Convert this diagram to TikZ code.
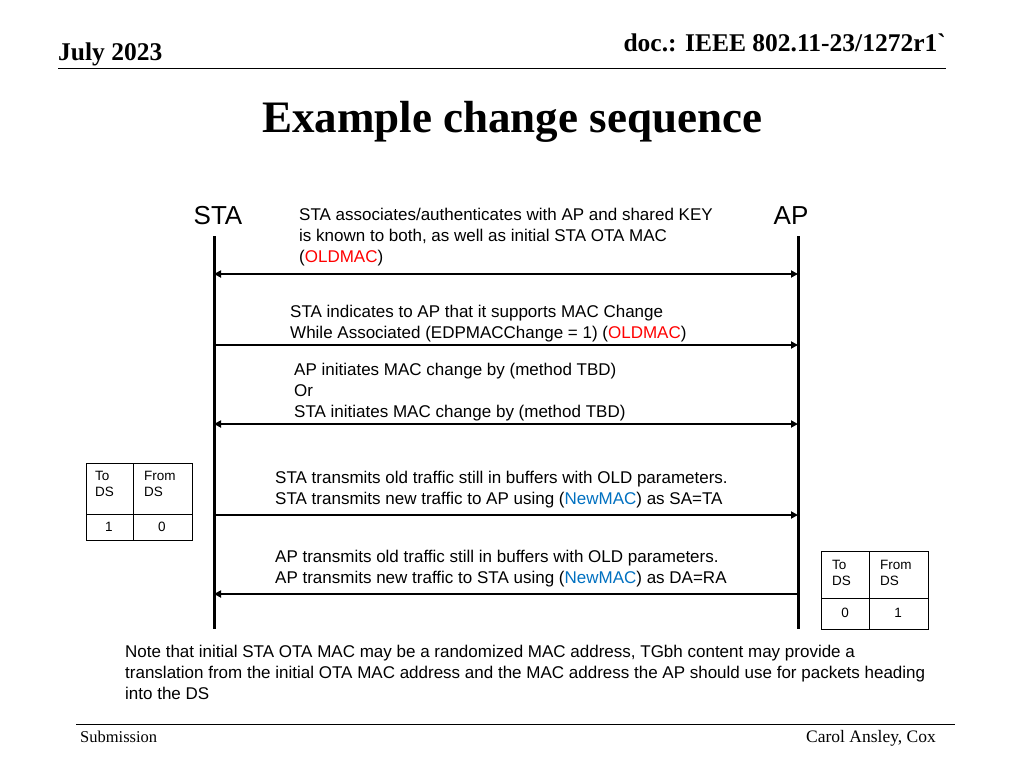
\documentclass[tikz,border=0pt]{standalone}
\usepackage{fontspec}
\setmainfont{Liberation Sans}
\newfontfamily\serifb{Liberation Serif}
\usetikzlibrary{arrows.meta}
\definecolor{oldred}{RGB}{255,0,0}
\definecolor{newblue}{RGB}{0,112,192}
\begin{document}
\begin{tikzpicture}[x=1pt,y=-1pt,
  msg/.style={line width=2.2pt,-{Triangle[length=7pt,width=7pt]}},
  dmsg/.style={line width=2.2pt,{Triangle[length=7pt,width=7pt]}-{Triangle[length=7pt,width=7pt]}},
  life/.style={line width=3pt},
  txt/.style={anchor=north west,align=left,inner sep=0pt,font=\fontsize{17}{21}\selectfont},
  cell/.style={font=\fontsize{13.5}{16}\selectfont,inner sep=0pt,align=left}]
\useasboundingbox (0,0) rectangle (1024,768);
% header
\node[anchor=west,inner sep=0pt,font=\serifb\bfseries\fontsize{25.5}{27}\selectfont] (date) at (58,54) {July 2023};
\node[anchor=east,inner sep=0pt,font=\serifb\bfseries\fontsize{25.5}{27}\selectfont] (doc) at (946,43) {doc.: IEEE 802.11-23/1272r1`};
\draw[line width=1pt] (58,68) -- (946,68);
\node[font=\serifb\bfseries\fontsize{45}{48}\selectfont,inner sep=0pt] (title) at (512,122) {Example change sequence};
% actors
\node[font=\fontsize{26}{28}\selectfont,inner sep=0pt] (sta) at (218,216) {STA};
\node[font=\fontsize{26}{28}\selectfont,inner sep=0pt] (ap) at (791,216) {AP};
\coordinate (s0) at (214,236); \coordinate (s1) at (214,629);
\coordinate (a0) at (798,236); \coordinate (a1) at (798,629);
\draw[life] (s0) -- (s1);
\draw[life] (a0) -- (a1);
% messages
\coordinate (m1s) at (214,274); \coordinate (m1a) at (798,274);
\coordinate (m2s) at (214,345); \coordinate (m2a) at (798,345);
\coordinate (m3s) at (214,424); \coordinate (m3a) at (798,424);
\coordinate (m4s) at (214,515); \coordinate (m4a) at (798,515);
\coordinate (m5s) at (214,594); \coordinate (m5a) at (798,594);
\draw[dmsg] (m1s) -- (m1a);
\draw[msg] (m2s) -- (m2a);
\draw[dmsg] (m3s) -- (m3a);
\draw[msg] (m4s) -- (m4a);
\draw[msg] (m5a) -- (m5s);
\node[txt] (t1) at (299,208) {STA associates/authenticates with AP and shared KEY\\is known to both, as well as initial STA OTA MAC\\(\textcolor{oldred}{OLDMAC})};
\node[txt] (t2) at (290,305) {STA indicates to AP that it supports MAC Change\\While Associated (EDPMACChange = 1) (\textcolor{oldred}{OLDMAC})};
\node[txt] (t3) at (294,363) {AP initiates MAC change by (method TBD)\\Or\\STA initiates MAC change by (method TBD)};
\node[txt] (t4) at (275,471) {STA transmits old traffic still in buffers with OLD parameters.\\STA transmits new traffic to AP using (\textcolor{newblue}{NewMAC}) as SA=TA};
\node[txt] (t5) at (275,550) {AP transmits old traffic still in buffers with OLD parameters.\\AP transmits new traffic to STA using (\textcolor{newblue}{NewMAC}) as DA=RA};
% left table
\draw[line width=1pt] (86,463) rectangle (192,540);
\draw[line width=1pt] (133,463) -- (133,540);
\draw[line width=1pt] (86,514) -- (192,514);
\node[cell,anchor=north west] (lt1) at (95,471) {To\\DS};
\node[cell,anchor=north west] (lt2) at (144,471) {From\\DS};
\node[cell] (lv1) at (109,527) {1};
\node[cell] (lv2) at (162,527) {0};
% right table
\draw[line width=1pt] (821,551) rectangle (928,629);
\draw[line width=1pt] (869,551) -- (869,629);
\draw[line width=1pt] (821,598) -- (928,598);
\node[cell,anchor=north west] (rt1) at (832,560) {To\\DS};
\node[cell,anchor=north west] (rt2) at (880,560) {From\\DS};
\node[cell] (rv1) at (845,613) {0};
\node[cell] (rv2) at (898,613) {1};
% note
\node[txt] (note) at (125,645) {Note that initial STA OTA MAC may be a randomized MAC address, TGbh content may provide a\\translation from the initial OTA MAC address and the MAC address the AP should use for packets heading\\into the DS};
% footer
\draw[line width=1pt] (76,724) -- (955,724);
\node[anchor=west,inner sep=0pt,font=\serifb\fontsize{16.5}{18}\selectfont] (sub) at (80,737) {Submission};
\node[anchor=east,inner sep=0pt,font=\serifb\fontsize{17.5}{18}\selectfont] (auth) at (936,738) {Carol Ansley,  Cox};
\end{tikzpicture}
\end{document}
